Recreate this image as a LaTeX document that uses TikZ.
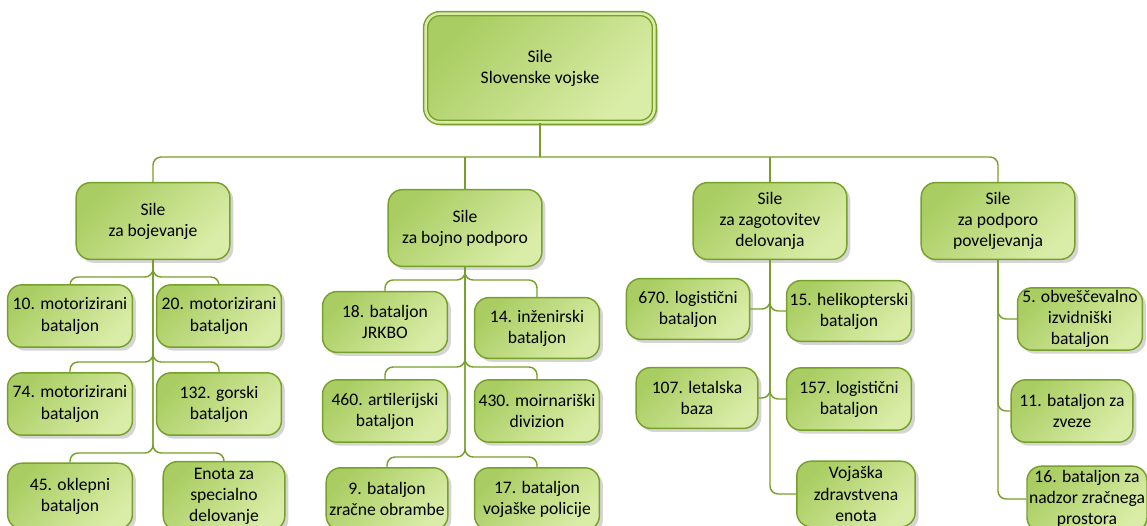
\documentclass[tikz,border=0pt]{standalone}
\usepackage{fontspec}
\setmainfont{Carlito}
\usetikzlibrary{shadows}
\definecolor{gdark}{HTML}{A9CD62}
\definecolor{glight}{HTML}{DAEDA8}
\definecolor{gline}{HTML}{76A02A}
\tikzset{
  unit/.style={draw=gline, line width=0.9pt, rounded corners=9pt,
    top color=gdark, bottom color=glight, shading angle=45,
    drop shadow={shadow xshift=2.2pt, shadow yshift=-2.2pt, fill=gray!55, opacity=0.6},
    align=center, inner sep=1pt,
    font=\fontsize{11}{13.2}\selectfont},
  link/.style={draw=gline, line width=0.9pt, rounded corners=5pt},
}
\begin{document}
\begin{tikzpicture}[x=0.625pt, y=-0.625pt]
\useasboundingbox (0,0) rectangle (1147,526);
% top
\node[unit, minimum width=143pt, minimum height=68pt, double=glight, double distance=1.6pt] (top) at (540,68) {Sile\\Slovenske vojske};
% second level
\node[unit, minimum width=96pt, minimum height=48pt] (A) at (153,221) {Sile\\za bojevanje};
\node[unit, minimum width=96pt, minimum height=48pt] (B) at (465,228) {Sile\\za bojno podporo};
\node[unit, minimum width=96pt, minimum height=48pt] (C) at (770,221) {Sile\\za zagotovitev\\delovanja};
\node[unit, minimum width=96pt, minimum height=48pt] (D) at (998,221) {Sile\\za podporo\\poveljevanja};
% units of A
\node[unit, minimum width=78pt, minimum height=39pt] (a1) at (70,316) {10. motorizirani\\bataljon};
\node[unit, minimum width=78pt, minimum height=39pt] (a2) at (219,316) {20. motorizirani\\bataljon};
\node[unit, minimum width=78pt, minimum height=39pt] (a3) at (70,404) {74. motorizirani\\bataljon};
\node[unit, minimum width=78pt, minimum height=39pt] (a4) at (219,404) {132. gorski\\bataljon};
\node[unit, minimum width=78pt, minimum height=41pt] (a5) at (70,496) {45. oklepni\\bataljon};
\node[unit, minimum width=76pt, minimum height=43pt] (a6) at (224,496) {Enota za\\specialno\\delovanje};
% units of B
\node[unit, minimum width=78pt, minimum height=38pt] (b1) at (385,322) {18. bataljon\\JRKBO};
\node[unit, minimum width=78pt, minimum height=38pt] (b2) at (537,328) {14. inženirski\\bataljon};
\node[unit, minimum width=78pt, minimum height=39pt] (b3) at (385,411) {460. artilerijski\\bataljon};
\node[unit, minimum width=78pt, minimum height=39pt] (b4) at (537,411) {430. moirnariški\\divizion};
\node[unit, minimum width=76pt, minimum height=39pt] (b5) at (387,499) {9. bataljon\\zračne obrambe};
\node[unit, minimum width=78pt, minimum height=39pt] (b6) at (537,499) {17. bataljon\\vojaške policije};
% units of C
\node[unit, minimum width=77pt, minimum height=38pt] (c1) at (688,309) {670. logistični\\bataljon};
\node[unit, minimum width=78pt, minimum height=38pt] (c2) at (849,311) {15. helikopterski\\bataljon};
\node[unit, minimum width=76pt, minimum height=38pt] (c3) at (697,398) {107. letalska\\baza};
\node[unit, minimum width=78pt, minimum height=39pt] (c4) at (849,399) {157. logistični\\bataljon};
\node[unit, minimum width=74pt, minimum height=41pt] (c5) at (856,494) {Vojaška\\zdravstvena\\enota};
% units of D
\node[unit, minimum width=78pt, minimum height=39pt] (d1) at (1080,319) {5. obveščevalno\\izvidniški\\bataljon};
\node[unit, minimum width=76pt, minimum height=39pt] (d2) at (1072,411) {11. bataljon za\\zveze};
\node[unit, minimum width=75pt, minimum height=41pt] (d3) at (1087,499) {16. bataljon za\\nadzor zračnega\\prostora};
% bus
\coordinate (bus) at (540,157);
\draw[link] (top.south) -- (bus);
\draw[link] (A.north) |- (bus) -| (D.north);
\draw[link] (B.north) -- (B.north |- bus);
\draw[link] (C.north) -- (C.north |- bus);
% A
\draw[link] (A.south) |- (a1.north |- 0,277) -- (a1.north);
\draw[link] (A.south) |- (a2.north |- 0,277) -- (a2.north);
\draw[link] (A.south) |- (a3.north |- 0,362) -- (a3.north);
\draw[link] (A.south) |- (a4.north |- 0,362) -- (a4.north);
\draw[link] (A.south) |- (a5.north |- 0,453) -- (a5.north);
\draw[link] (A.south) |- (a6.north |- 0,453) -- (a6.north);
% B
\draw[link] (B.south) |- (b1.north |- 0,280) -- (b1.north);
\draw[link] (B.south) |- (b2.north |- 0,280) -- (b2.north);
\draw[link] (B.south) |- (b3.north |- 0,367) -- (b3.north);
\draw[link] (B.south) |- (b4.north |- 0,367) -- (b4.north);
\draw[link] (B.south) |- (b5.north |- 0,457) -- (b5.north);
\draw[link] (B.south) |- (b6.north |- 0,457) -- (b6.north);
% C
\draw[link] (C.south) |- (c1.east);
\draw[link] (C.south) |- (c2.west);
\draw[link] (C.south) |- (c3.east);
\draw[link] (C.south) |- (c4.west);
\draw[link] (C.south) |- (c5.west);
% D
\draw[link] (D.south) |- (d1.west);
\draw[link] (D.south) |- (d2.west);
\draw[link] (D.south) |- (d3.west);
\end{tikzpicture}
\end{document}
